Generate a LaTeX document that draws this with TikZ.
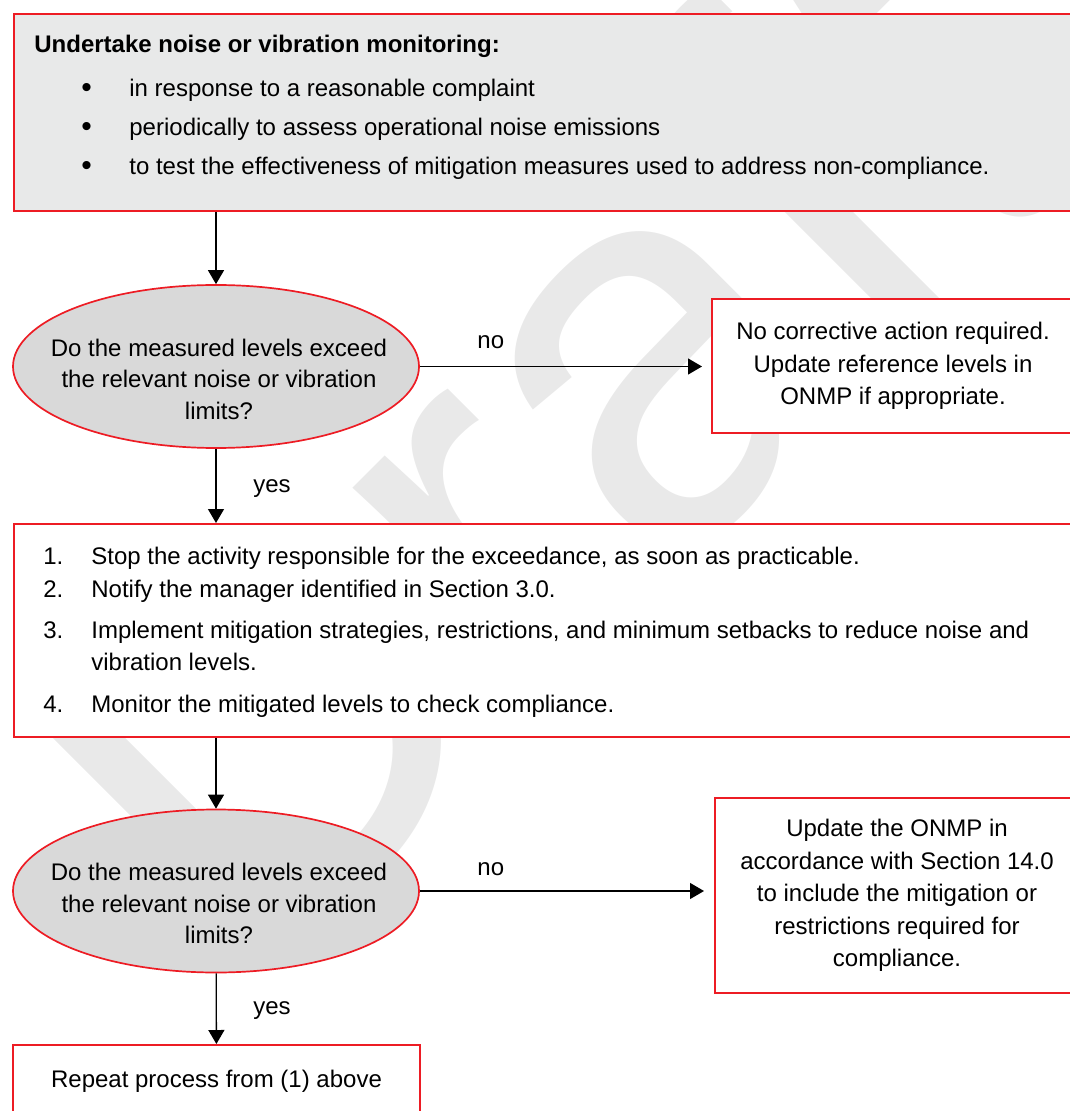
\documentclass[tikz,border=0pt]{standalone}
\usepackage{fontspec}
\setmainfont{Liberation Sans}
\usepackage{tikz}
\usetikzlibrary{arrows.meta,shapes.geometric}

\definecolor{boxred}{HTML}{ED1C24}
\definecolor{topgray}{HTML}{E8E9E9}
\definecolor{ellgray}{HTML}{D9D9D9}
\definecolor{wmgray}{HTML}{E9E9E9}

\tikzset{
  every node/.style={font=\fontsize{12}{16.25}\selectfont},
  redbox/.style={draw=boxred, line width=1pt, rectangle, inner sep=0pt, fill=white},
  decision/.style={ellipse, draw=boxred, fill=ellgray, line width=0.85pt, inner sep=0pt,
                   minimum width=203pt, minimum height=81.5pt},
  qtext/.style={align=center, font=\fontsize{12}{15.75}\selectfont},
  txt/.style={anchor=base west, inner sep=0pt},
  dot/.style={anchor=base west, inner sep=0pt, font=\fontsize{15}{15}\selectfont},
  arr/.style={-{Triangle[length=7pt,width=8pt]}, line width=0.65pt},
}

\begin{document}
\begin{tikzpicture}[x=0.5pt, y=-0.5pt]
\useasboundingbox (0,0) rectangle (1069,1111);

% watermark
\node[rotate=45, text=wmgray, font=\fontsize{275}{275}\selectfont] (wm) at (534,440) {Draft};

% monitoring box
\node[redbox, fill=topgray, anchor=north west, minimum width=550pt, minimum height=98.5pt] (monitor) at (13,13) {};
\node[txt, font=\fontsize{12}{16}\selectfont\bfseries] (title) at (34,53) {Undertake noise or vibration monitoring:};
\node[dot] (d1) at (81,98) {•};
\node[txt] (b1) at (129,97) {in response to a reasonable complaint};
\node[dot] (d2) at (81,137) {•};
\node[txt] (b2) at (129,136) {periodically to assess operational noise emissions};
\node[dot] (d3) at (81,176) {•};
\node[txt] (b3) at (129,175) {to test the effectiveness of mitigation measures used to address non-compliance.};

% first check
\node[decision] (check1) at (216,366.5) {};
\node[qtext] (q1) at (219,379) {Do the measured levels exceed\\the relevant noise or vibration\\limits?};
\node[redbox, align=center, minimum width=181pt, minimum height=67pt] (nocorr) at (893,366) {No corrective action required.\\Update reference levels in\\ONMP if appropriate.};

% actions box
\node[redbox, anchor=north west, minimum width=550pt, minimum height=106.5pt] (actions) at (13,523) {};
\node[txt] (n1) at (43,564) {1.};
\node[txt] (s1) at (91,564) {Stop the activity responsible for the exceedance, as soon as practicable.};
\node[txt] (n2) at (43,597) {2.};
\node[txt] (s2) at (91,597) {Notify the manager identified in Section 3.0.};
\node[txt] (n3) at (43,638) {3.};
\node[txt] (s3) at (91,638) {Implement mitigation strategies, restrictions, and minimum setbacks to reduce noise and};
\node[txt] (s3b) at (91,670) {vibration levels.};
\node[txt] (n4) at (43,712) {4.};
\node[txt] (s4) at (91,712) {Monitor the mitigated levels to check compliance.};

% second check
\node[decision] (check2) at (216,891) {};
\node[qtext] (q2) at (219,903.5) {Do the measured levels exceed\\the relevant noise or vibration\\limits?};
\node[redbox, align=center, minimum width=182pt, minimum height=97.5pt] (update) at (897,895.5) {Update the ONMP in\\accordance with Section 14.0\\to include the mitigation or\\restrictions required for\\compliance.};
\node[redbox, minimum width=203.5pt, minimum height=36pt] (repeat) at (216.5,1081) {Repeat process from (1) above};

% connectors
\draw[arr] (check1 |- monitor.south) -- (check1);
\draw[arr, shorten >=4.5pt] (check1) -- (check1 -| nocorr.west);
\draw[arr] (check1) -- (check1 |- actions.north);
\draw[arr] (check1 |- actions.south) -- (check2);
\draw[arr, shorten >=5pt] (check2) -- (check2 -| update.west);
\draw[arr] (check2) -- (repeat);

% labels
\node[txt] (no1) at (477,349) {no};
\node[txt] (yes1) at (253,492) {yes};
\node[txt] (no2) at (477,875) {no};
\node[txt] (yes2) at (253,1014) {yes};
\end{tikzpicture}
\end{document}
